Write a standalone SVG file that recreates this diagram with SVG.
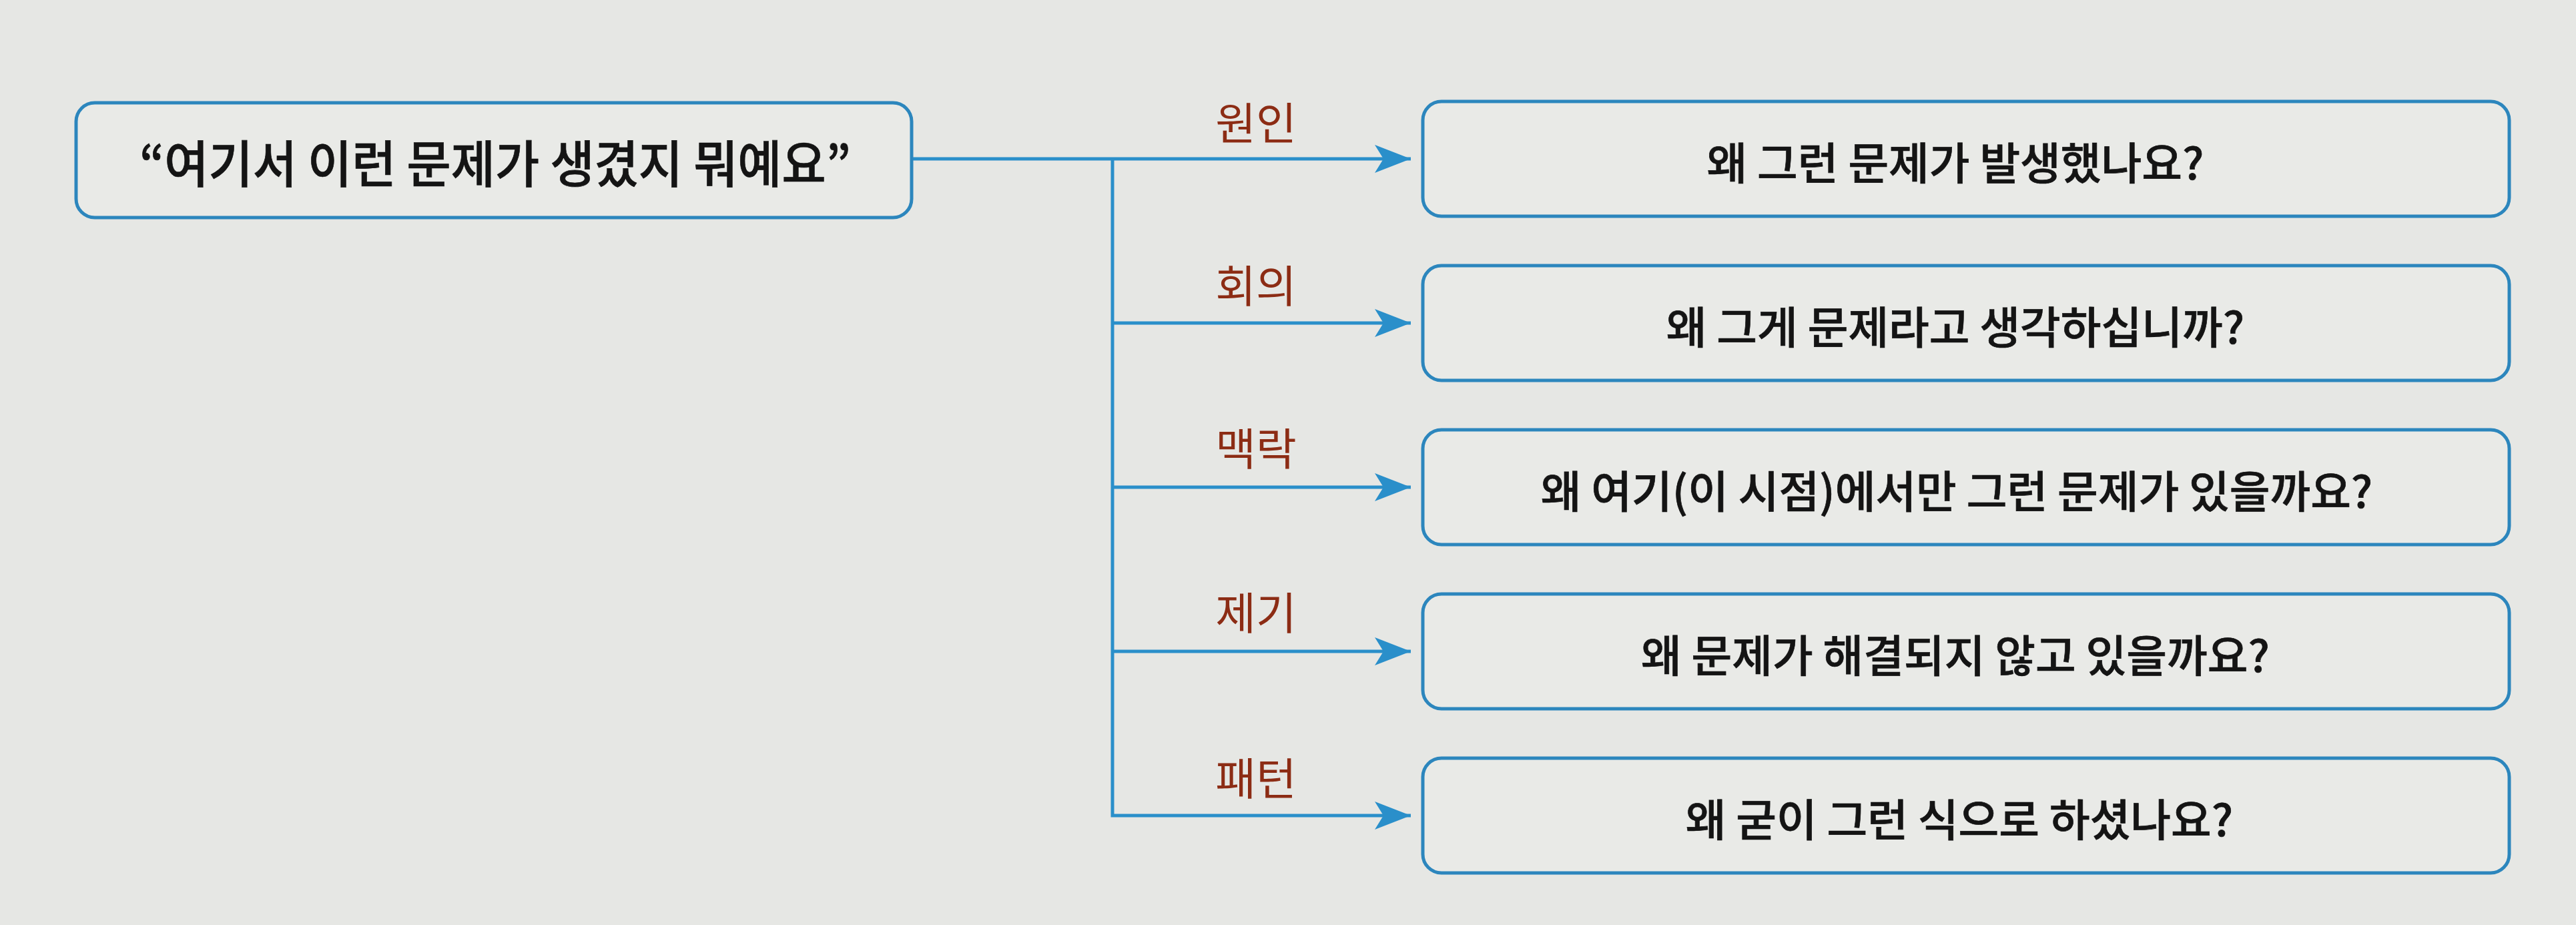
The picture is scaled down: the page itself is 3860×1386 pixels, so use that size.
<svg xmlns="http://www.w3.org/2000/svg" width="3860" height="1386" viewBox="0 0 3860 1386">
  <style>
    .box { fill: #e9eae7; stroke: #2c86bd; stroke-width: 5; }
    .wire { fill: none; stroke: #2a8fca; stroke-width: 5; stroke-linejoin: miter; }
    .txt { font-family: "Noto Sans CJK KR", "Noto Sans", sans-serif; font-weight: 500; fill: #141414; stroke: #141414; stroke-width: 0.7; text-anchor: middle; dominant-baseline: central; }
    .lbl { font-family: "Noto Sans CJK KR", "Noto Sans", sans-serif; font-weight: 400; fill: #8c2c14; text-anchor: middle; dominant-baseline: central; font-size: 66px; }
  </style>
  <defs>
    <marker id="arrow" markerUnits="userSpaceOnUse" markerWidth="56" markerHeight="44" refX="54" refY="21" orient="auto">
      <path d="M0,0 L54,21 L0,42 L13,21 Z" fill="#2a8fca"/>
    </marker>
  </defs>
  <rect x="0" y="0" width="3860" height="1386" fill="#e6e7e4"/>

  <g id="connectors">
    <path class="wire" d="M1366,238 H2114" marker-end="url(#arrow)"/>
    <path class="wire" d="M1667,238 V1222 H2114" marker-end="url(#arrow)"/>
    <path class="wire" d="M1667,484 H2114" marker-end="url(#arrow)"/>
    <path class="wire" d="M1667,730 H2114" marker-end="url(#arrow)"/>
    <path class="wire" d="M1667,976 H2114" marker-end="url(#arrow)"/>
    <g id="edge-labels">
      <text class="lbl" x="1882" y="180">원인</text>
      <text class="lbl" x="1882" y="424">회의</text>
      <text class="lbl" x="1882" y="668">맥락</text>
      <text class="lbl" x="1882" y="914">제기</text>
      <text class="lbl" x="1882" y="1162">패턴</text>
    </g>
  </g>

  <g id="node-source">
    <rect class="box" x="114" y="154" width="1252" height="172" rx="28"/>
    <text class="txt" x="742" y="241" font-size="76" textLength="1066" lengthAdjust="spacingAndGlyphs">“여기서 이런 문제가 생겼지 뭐예요”</text>
  </g>

  <g id="node-cause">
    <rect class="box" x="2132" y="152" width="1628" height="172" rx="28"/>
    <text class="txt" x="2930" y="240" font-size="66">왜 그런 문제가 발생했나요?</text>
  </g>
  <g id="node-doubt">
    <rect class="box" x="2132" y="398" width="1628" height="172" rx="28"/>
    <text class="txt" x="2930" y="486" font-size="66">왜 그게 문제라고 생각하십니까?</text>
  </g>
  <g id="node-context">
    <rect class="box" x="2132" y="644" width="1628" height="172" rx="28"/>
    <text class="txt" x="2932" y="732" font-size="66">왜 여기(이 시점)에서만 그런 문제가 있을까요?</text>
  </g>
  <g id="node-raise">
    <rect class="box" x="2132" y="890" width="1628" height="172" rx="28"/>
    <text class="txt" x="2930" y="978" font-size="66">왜 문제가 해결되지 않고 있을까요?</text>
  </g>
  <g id="node-pattern">
    <rect class="box" x="2132" y="1136" width="1628" height="172" rx="28"/>
    <text class="txt" x="2936" y="1224" font-size="66">왜 굳이 그런 식으로 하셨나요?</text>
  </g>
</svg>
